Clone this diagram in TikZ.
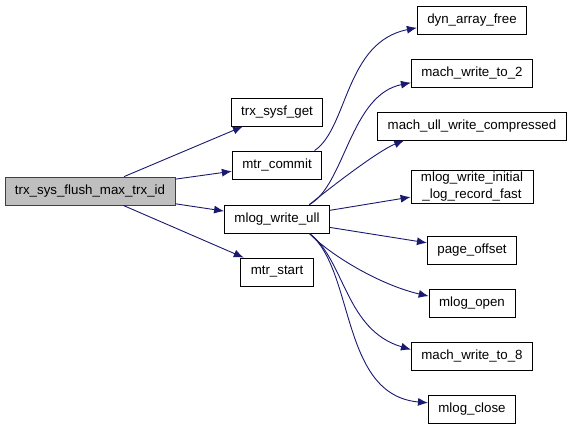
\documentclass[tikz,border=0pt]{standalone}
\usepackage{fontspec}
\setmainfont{Liberation Sans}
\usetikzlibrary{arrows.meta}
\definecolor{edgeblue}{HTML}{191970}

\begin{document}
\begin{tikzpicture}[x=1pt, y=-1pt, >={Latex[length=10pt,width=8pt]},
        fn/.style={draw, line width=0.8pt, inner xsep=10pt, inner ysep=2pt, minimum height=28pt, align=center, font=\fontsize{13.3}{17}\selectfont},
        e/.style={->, draw=edgeblue, fill=none, line width=0.9pt}]
            %pixel coordinates of the call graph, y grows downwards
            \useasboundingbox (0,0) rectangle (571,429);
            \node[fn, fill={rgb,255:red,191;green,191;blue,191}, draw={rgb,255:red,64;green,64;blue,64}] (root) at (90,191) {trx\_sys\_flush\_max\_trx\_id};

            \node[fn] (sysf) at (277,112) {trx\_sysf\_get};
            \node[fn] (commit) at (277,165) {mtr\_commit};
            \node[fn] (ull) at (277,219) {mlog\_write\_ull};
            \node[fn] (start) at (277,272) {mtr\_start};

            \node[fn] (dyn) at (472,20) {dyn\_array\_free};
            \node[fn] (mw2) at (472,73) {mach\_write\_to\_2};
            \node[fn] (mullc) at (472,126) {mach\_ull\_write\_compressed};
            \node[fn] (mwi) at (472,187) {mlog\_write\_initial\\\_log\_record\_fast};
            \node[fn] (poff) at (472,250) {page\_offset};
            \node[fn] (mopen) at (472,303) {mlog\_open};
            \node[fn] (mw8) at (472,356) {mach\_write\_to\_8};
            \node[fn] (mclose) at (472,409) {mlog\_close};

            \draw[e] (root) -- (sysf);
            \draw[e] (root) -- (commit);
            \draw[e] (root) -- (ull);
            \draw[e] (root) -- (start);

            \draw[e] (commit.21) .. controls (348,128) and (345,42) .. (dyn.188);
            \draw[e] (ull.24) .. controls (345,185) and (350,95) .. (mw2.189);
            \draw[e] (ull.24) .. controls (340,180) and (380,150) .. (mullc.192);
            \draw[e] (ull) -- (mwi);
            \draw[e] (ull) -- (poff);
            \draw[e] (ull.-24) .. controls (330,255) and (380,285) .. (mopen.171);
            \draw[e] (ull.-24) .. controls (345,260) and (345,330) .. (mw8.174);
            \draw[e] (ull.-24) .. controls (355,270) and (340,395) .. (mclose.172);
        \end{tikzpicture}
\end{document}
